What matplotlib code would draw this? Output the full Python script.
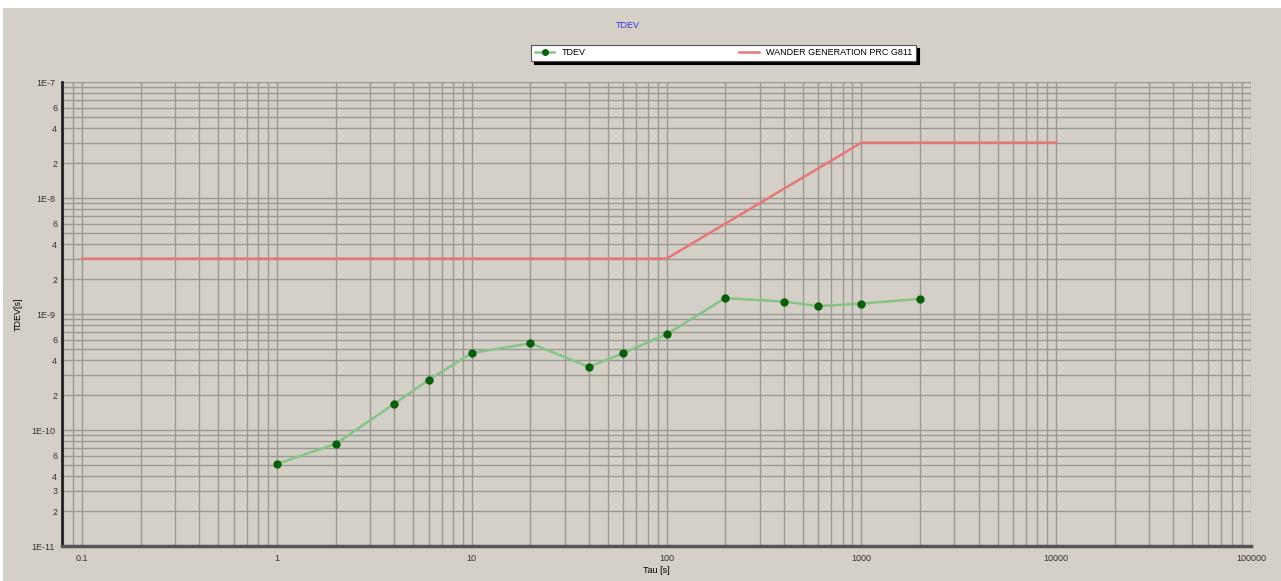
import matplotlib
matplotlib.use("Agg")
import matplotlib.pyplot as plt
from matplotlib.patches import Rectangle
from matplotlib.ticker import FixedLocator, FixedFormatter

plt.rcParams["font.family"] = ["Liberation Sans", "DejaVu Sans"]

# ── Data ──────────────────────────────────────────────────────────────────────
tau = [1, 2, 4, 6, 10, 20, 40, 60, 100, 200, 400, 600, 1000, 2000]
tdev = [5.1e-11, 7.6e-11, 1.68e-10, 2.7e-10, 4.6e-10, 5.6e-10, 3.5e-10,
        4.6e-10, 6.7e-10, 1.37e-9, 1.28e-9, 1.17e-9, 1.23e-9, 1.35e-9]

mask_tau = [0.1, 100, 1000, 10000]
mask_val = [3e-9, 3e-9, 3e-8, 3e-8]

x_ticks = [0.1, 1, 10, 100, 1000, 10000, 100000]
x_labels = ["0.1", "1", "10", "100", "1000", "10000", "100000"]

y_major = [1e-11, 1e-10, 1e-9, 1e-8, 1e-7]
y_major_labels = ["1E-11", "1E-10", "1E-9", "1E-8", "1E-7"]

W, H = 1281, 581
bg = "#d4d0c8"

fig = plt.figure(figsize=(W / 100, H / 100), dpi=100, facecolor="white")
fig.patches.append(Rectangle((3 / W, 0), 1, 1 - 8 / H, transform=fig.transFigure,
                             facecolor=bg, edgecolor="none", zorder=-10))

ax = fig.add_axes([62 / W, 1 - 546 / H, (1251 - 62) / W, (546 - 82) / H])
ax.set_facecolor(bg)
ax.set_xscale("log")
ax.set_yscale("log")
ax.set_xlim(0.0788, 1e5)
ax.set_ylim(1e-11, 1e-7)

# ── Grid: every decade step 1..9 on both axes ─────────────────────────────────
x_minor = [m * 10 ** e for e in range(-2, 5) for m in range(2, 10)]
x_minor = [v for v in x_minor if 0.0788 < v < 1e5]
ax.xaxis.set_major_locator(FixedLocator(x_ticks))
ax.xaxis.set_major_formatter(FixedFormatter(x_labels))
ax.xaxis.set_minor_locator(FixedLocator(x_minor))
ax.xaxis.set_minor_formatter(FixedFormatter([""] * len(x_minor)))

y_minor, y_minor_labels = [], []
for e in range(-11, -7):
    for m in range(2, 10):
        y_minor.append(m * 10.0 ** e)
        if m in (2, 4, 6) or (e == -11 and m == 3):
            y_minor_labels.append(str(m))
        else:
            y_minor_labels.append("")
ax.yaxis.set_major_locator(FixedLocator(y_major))
ax.yaxis.set_major_formatter(FixedFormatter(y_major_labels))
ax.yaxis.set_minor_locator(FixedLocator(y_minor))
ax.yaxis.set_minor_formatter(FixedFormatter(y_minor_labels))

ax.grid(True, which="both", color="#9a9894", linewidth=1.0)
ax.set_axisbelow(True)
ax.tick_params(which="both", length=0, labelsize=6.5, colors="#333333")
ax.tick_params(axis="x", pad=6)
ax.tick_params(axis="y", pad=5)

for side in ("top", "right"):
    ax.spines[side].set_visible(False)
ax.spines["left"].set_color("#222222")
ax.spines["left"].set_linewidth(2)
ax.spines["bottom"].set_color("#555555")
ax.spines["bottom"].set_linewidth(2.5)

# ── Series ────────────────────────────────────────────────────────────────────
ax.plot(mask_tau, mask_val, color="#e87878", linewidth=1.8, label="WANDER GENERATION PRC G811", zorder=3)
ax.plot(tau, tdev, color="#86c486", linewidth=1.8, marker="o", markersize=5,
        markerfacecolor="#0b5e0b", markeredgecolor="#0b5e0b", label="TDEV", zorder=4)

ax.set_xlabel("Tau [s]", fontsize=6.5, labelpad=2)
ax.set_ylabel("TDEV[s]", fontsize=6.5, labelpad=6)

fig.text(628 / W, 1 - 25 / H, "TDEV", color="#3333dd", fontsize=6.5, ha="center", va="center")

handles, labels = ax.get_legend_handles_labels()
leg = fig.legend(handles[::-1], labels[::-1], ncol=2, mode="expand",
                 bbox_to_anchor=(531 / W, 1 - 61 / H, 385 / W, 21 / H),
                 loc="lower left", fontsize=6.5, fancybox=False, framealpha=1,
                 edgecolor="#555555", handlelength=2.2, borderaxespad=0,
                 shadow={"ox": 2, "oy": -2, "facecolor": "black", "edgecolor": "black", "alpha": 1})
leg.get_frame().set_linewidth(0.8)
for h in leg.legend_handles:
    h.set_markersize(4)

fig.savefig("out.png", dpi=100, facecolor=fig.get_facecolor())
